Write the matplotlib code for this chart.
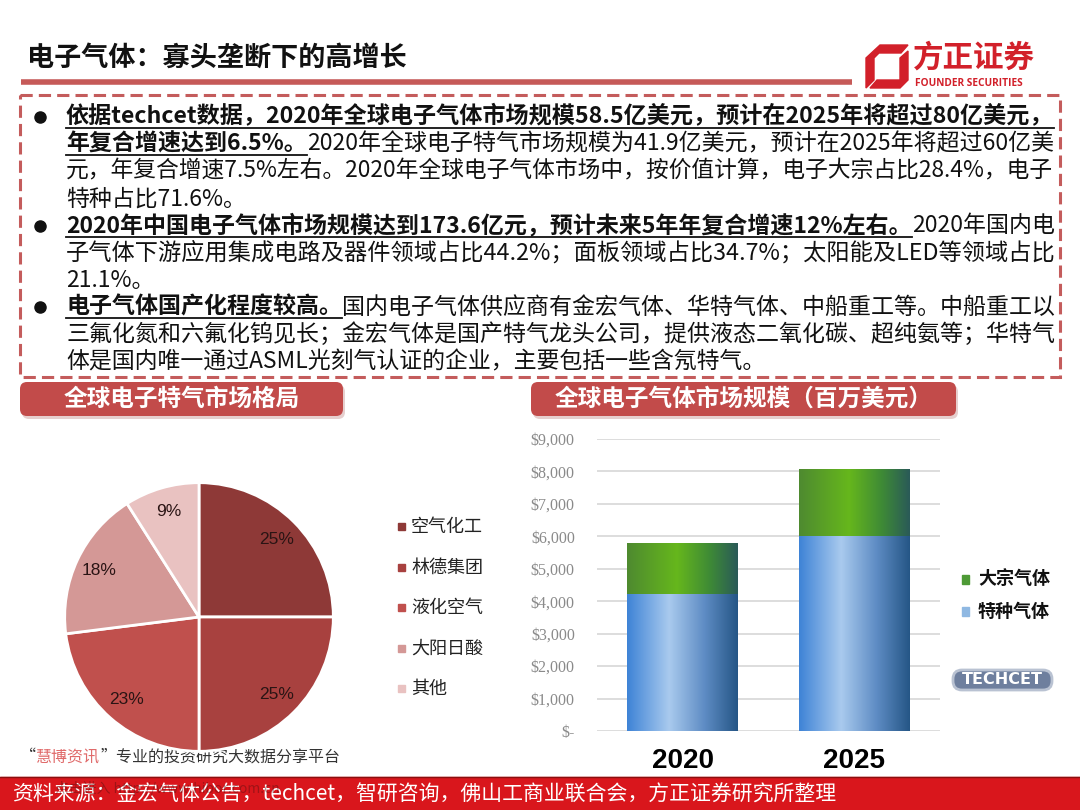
import numpy as np
import matplotlib.pyplot as plt
from matplotlib.patches import Rectangle, FancyBboxPatch, Polygon
from matplotlib.colors import LinearSegmentedColormap

plt.rcParams['font.family'] = ['Noto Sans CJK SC', 'DejaVu Sans']

# ---- data ----
pie_names = ['空气化工', '林德集团', '液化空气', '大阳日酸', '其他']
pie_share = [25, 25, 23, 18, 9]
pie_colors = ['#8E3937', '#A8413F', '#C0504D', '#D49896', '#E9C2C1']

years = ['2020', '2025']
special_gas = [4220, 6010]   # 特种气体, 百万美元
bulk_gas = [1580, 2070]      # 大宗气体
y_ticks = [0, 1000, 2000, 3000, 4000, 5000, 6000, 7000, 8000, 9000]
y_labels = ['$-', '$1,000', '$2,000', '$3,000', '$4,000', '$5,000',
            '$6,000', '$7,000', '$8,000', '$9,000']

title = '电子气体：寡头垄断下的高增长'
# each line: list of (text, bold)
body = [
    [('依据techcet数据，2020年全球电子气体市场规模58.5亿美元，预计在2025年将超过80亿美元，', True)],
    [('年复合增速达到6.5%。', True), ('2020年全球电子特气市场规模为41.9亿美元，预计在2025年将超过60亿美', False)],
    [('元，年复合增速7.5%左右。2020年全球电子气体市场中，按价值计算，电子大宗占比28.4%，电子', False)],
    [('特种占比71.6%。', False)],
    [('2020年中国电子气体市场规模达到173.6亿元，预计未来5年年复合增速12%左右。', True), ('2020年国内电', False)],
    [('子气体下游应用集成电路及器件领域占比44.2%；面板领域占比34.7%；太阳能及LED等领域占比', False)],
    [('21.1%。', False)],
    [('电子气体国产化程度较高。', True), ('国内电子气体供应商有金宏气体、华特气体、中船重工等。中船重工以', False)],
    [('三氟化氮和六氟化钨见长；金宏气体是国产特气龙头公司，提供液态二氧化碳、超纯氨等；华特气', False)],
    [('体是国内唯一通过ASML光刻气认证的企业，主要包括一些含氖特气。', False)],
]
bullet_lines = [0, 4, 7]
full_lines = [0, 1, 2, 4, 5, 7, 8]
source = '资料来源：金宏气体公告，techcet，智研咨询，佛山工商业联合会，方正证券研究所整理'

W, H = 1080, 810
fig = plt.figure(figsize=(W / 100, H / 100), dpi=100)
fig.patch.set_facecolor('white')

# overlay axes in pixel coordinates
ax0 = fig.add_axes([0, 0, 1, 1], zorder=0)
ax0.set_xlim(0, W)
ax0.set_ylim(H, 0)
ax0.axis('off')

red = '#C0504D'

# title + underline
ax0.text(27, 58, title, fontsize=19.5, fontweight='bold', va='center', color='#111111')
ax0.plot([21, 852], [82, 82], color='#C65A58', lw=4, solid_capstyle='butt')

# logo
logo_red = '#D2202A'
ax0.add_patch(Polygon([[880, 45], [908, 45], [901, 53], [879, 53], [874, 58], [874, 80],
                       [866, 88], [866, 58]], closed=True, color=logo_red))
ax0.add_patch(Polygon([[908, 51], [908, 80], [900, 88], [870, 88], [877, 80], [900, 80],
                       [900, 58]], closed=True, color=logo_red))
ax0.text(913, 58, '方正证券', fontsize=22, fontweight='bold', color=logo_red, va='center')
ax0.text(915, 83, 'FOUNDER SECURITIES', fontsize=7.3, fontweight='bold', color=logo_red,
         va='center', family=['Open Sans', 'DejaVu Sans'])

# dashed box
ax0.add_patch(Rectangle((20, 95), 1040, 282, fill=False, ec='#C45C5C', lw=2.2,
                        ls=(0, (4, 2))))

# body text
fig.canvas.draw()
rend = fig.canvas.get_renderer()
base = 16.5
x_start, x_end = 66, 1052
y0, dy = 117, 27.2
for i, line in enumerate(body):
    y = y0 + i * dy
    if i in bullet_lines:
        ax0.plot(40, y, 'o', color='#111111', ms=8)
    # measure at base size, then fit full lines to the box width
    tot = 0
    for txt, bold in line:
        t = ax0.text(0, 0, txt, fontsize=base, fontweight='bold' if bold else 'normal')
        tot += t.get_window_extent(rend).width
        t.remove()
    size = base * (x_end - x_start) / tot if i in full_lines else base
    x = x_start
    for txt, bold in line:
        t = ax0.text(x, y, txt, fontsize=size, fontweight='bold' if bold else 'normal',
                     va='center', color='#111111')
        w = t.get_window_extent(rend).width
        if bold:
            ax0.plot([x, x + w], [y + 11, y + 11], color='#111111', lw=1.3)
        x += w

# section header boxes
for (x1, x2, label) in [(20, 343, '全球电子特气市场格局'), (531, 956, '全球电子气体市场规模（百万美元）')]:
    ax0.add_patch(FancyBboxPatch((x1 + 2, 385), x2 - x1, 34, boxstyle='round,pad=0,rounding_size=7',
                                 fc='#E6CFCE', ec='none'))
    ax0.add_patch(FancyBboxPatch((x1, 382), x2 - x1, 34, boxstyle='round,pad=0,rounding_size=7',
                                 fc='#C24B4A', ec='none'))
    ax0.text((x1 + x2) / 2, 399, label, fontsize=17, fontweight='bold', color='white',
             ha='center', va='center')

# ---- pie ----
cx, cy, r = 199, 617, 137
axp = fig.add_axes([(cx - r) / W, (H - cy - r) / H, 2 * r / W, 2 * r / H])
wedges, _, autotexts = axp.pie(pie_share, colors=pie_colors, startangle=90, counterclock=False,
                               autopct=lambda p: f'{p:.0f}%', pctdistance=0.82,
                               wedgeprops=dict(edgecolor='white', linewidth=2))
for t in autotexts:
    t.set_fontsize(12.5)
    t.set_color('#2A1414')
    t.set_family(['Liberation Sans', 'DejaVu Sans'])
axp.set_xlim(-1.02, 1.02)
axp.set_ylim(-1.02, 1.02)
axp.set_aspect('equal')

for i, (name, col) in enumerate(zip(pie_names, pie_colors)):
    yy = 527 + i * 40.5
    ax0.add_patch(Rectangle((398, yy - 4), 7, 7, color=col))
    ax0.text(411, yy, name, fontsize=13, color='#222222', va='center')

# ---- bars ----
ax_l, ax_r, ax_t, ax_b = 597, 940, 439, 731
axb = fig.add_axes([ax_l / W, (H - ax_b) / H, (ax_r - ax_l) / W, (ax_b - ax_t) / H], zorder=2)
axb.patch.set_alpha(0)
xs = np.arange(len(years))
bw = 0.647
b1 = axb.bar(xs, special_gas, width=bw, color='#7FAEE0', zorder=3)
b2 = axb.bar(xs, bulk_gas, width=bw, bottom=special_gas, color='#5A9E2E', zorder=3)

blue_cm = LinearSegmentedColormap.from_list('b', [(0, '#3E83D6'), (0.38, '#A9CAEE'),
                                                  (0.7, '#5E8CC4'), (1, '#255686')])
green_cm = LinearSegmentedColormap.from_list('g', [(0, '#4E8A30'), (0.45, '#66B71C'),
                                                   (0.75, '#3E8A36'), (1, '#2A5A58')])
grad = np.linspace(0, 1, 256).reshape(1, -1)
for bars, cm in [(b1, blue_cm), (b2, green_cm)]:
    for p in bars:
        x, yb = p.get_x(), p.get_y()
        im = axb.imshow(grad, cmap=cm, aspect='auto', zorder=4,
                        extent=[x, x + p.get_width(), yb, yb + p.get_height()])
        im.set_clip_path(p)

axb.set_xlim(-0.4985, 1.501)
axb.set_ylim(0, 9000)
axb.set_yticks(y_ticks)
axb.set_yticklabels(y_labels)
axb.set_xticks(xs)
axb.set_xticklabels(years)
axb.grid(axis='y', color='#DADADA', lw=1.3, zorder=0)
axb.tick_params(axis='y', length=0, pad=16, labelsize=11.5, labelcolor='#8A8A8A')
axb.tick_params(axis='x', length=0, pad=12, labelsize=20)
for t in axb.get_yticklabels():
    t.set_family(['Liberation Serif', 'DejaVu Serif'])
for t in axb.get_xticklabels():
    t.set_fontweight('bold')
    t.set_family(['Liberation Sans Narrow', 'Liberation Sans', 'DejaVu Sans'])
for s in axb.spines.values():
    s.set_visible(False)

ax0.add_patch(Rectangle((962, 575), 7, 9, color='#4E9A36'))
ax0.add_patch(Rectangle((962, 607), 7, 9, color='#8FB8E2'))
ax0.text(978, 579, '大宗气体', fontsize=13, fontweight='bold', color='#111111', va='center')
ax0.text(978, 611, '特种气体', fontsize=13, fontweight='bold', color='#111111', va='center')

# TECHCET logo
ax0.add_patch(FancyBboxPatch((953, 670), 99, 20, boxstyle='round,pad=0,rounding_size=9',
                             fc='#6E7F9E', ec='#B9C2D2', lw=2))
ax0.text(1002, 680, 'TECHCET', fontsize=11.5, fontweight='bold', color='white', ha='center',
         va='center', family=['DejaVu Sans'])

# watermark line
x = 20
for txt, col in [('“', '#333333'), ('慧博资讯', '#E06A6A'), ('”专业的投资研究大数据分享平台', '#333333')]:
    t = ax0.text(x, 757, txt, fontsize=11.5, color=col, va='center')
    x += t.get_window_extent(rend).width

# bottom source bar
ax0.add_patch(Rectangle((0, 777), W, 33, color='#D9161C', zorder=1))
ax0.plot([0, W], [777, 777], color='#8A1010', lw=1, zorder=2)
ax0.text(12, 795, source, fontsize=15, color='white', va='center', zorder=3)
ax0.text(55, 788, '点击进入 http://www.hibor.com.cn', fontsize=10, color='#5A1010',
         alpha=0.45, va='center', zorder=3)

fig.savefig('out.png', dpi=100)
